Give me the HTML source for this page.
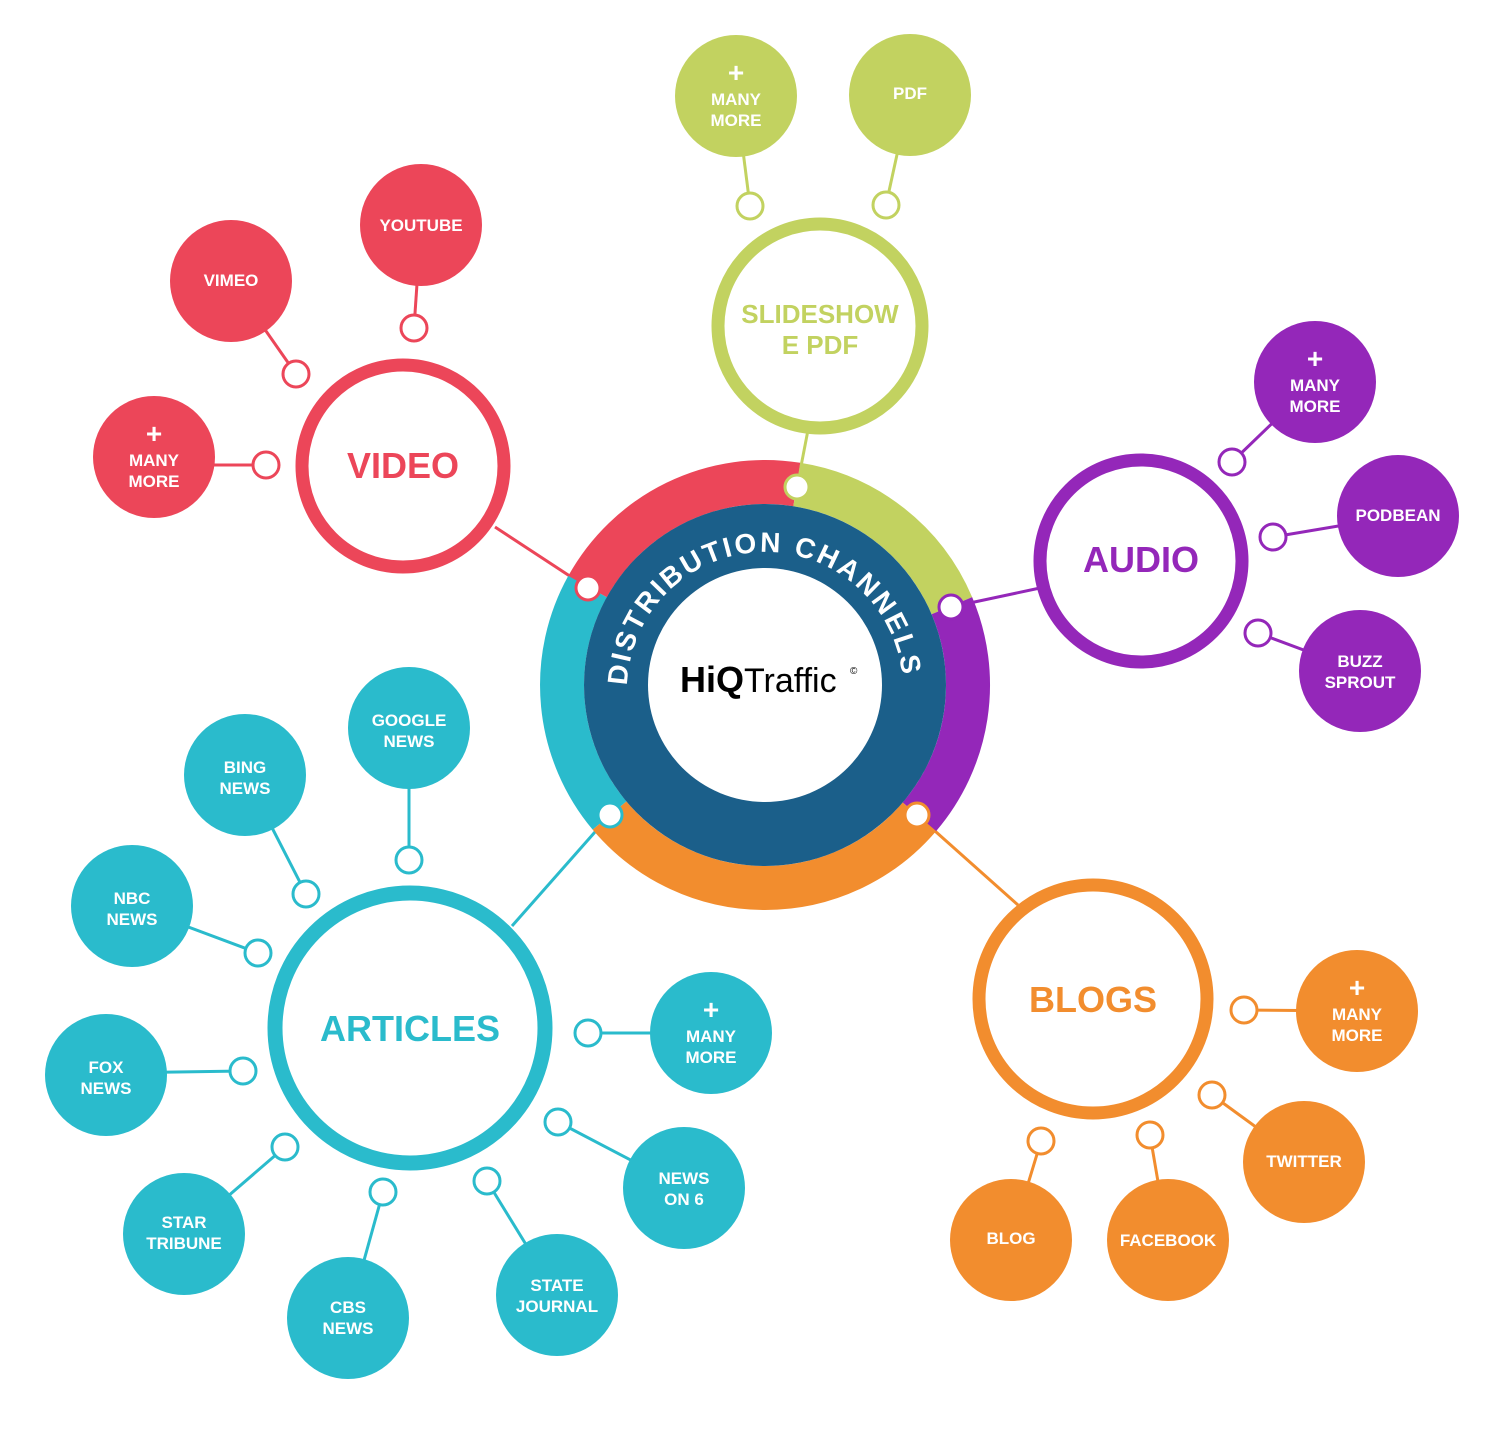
<!DOCTYPE html>
<html><head><meta charset="utf-8"><style>
html,body{margin:0;padding:0;background:#fff}
svg{display:block}
text{font-family:"Liberation Sans",sans-serif;font-weight:bold}
.s{fill:#fff;font-size:17px;text-anchor:middle}
.p{fill:#fff;font-size:28px;text-anchor:middle}
.big{font-size:36px;text-anchor:middle}
</style></head><body>
<svg width="1500" height="1432" viewBox="0 0 1500 1432" xmlns="http://www.w3.org/2000/svg">
<g stroke-width="3" fill="none">
<line x1="495" y1="527" x2="588" y2="588" stroke="#EC4659"/>
<line x1="231" y1="281" x2="296" y2="374" stroke="#EC4659"/>
<line x1="421" y1="225" x2="414" y2="328" stroke="#EC4659"/>
<line x1="154" y1="465" x2="266" y2="465" stroke="#EC4659"/>
<line x1="808" y1="430" x2="797" y2="487" stroke="#C2D260"/>
<line x1="736" y1="96" x2="750" y2="206" stroke="#C2D260"/>
<line x1="910" y1="95" x2="886" y2="205" stroke="#C2D260"/>
<line x1="1040" y1="588" x2="951" y2="607" stroke="#9427B9"/>
<line x1="1315" y1="382" x2="1232" y2="462" stroke="#9427B9"/>
<line x1="1398" y1="516" x2="1273" y2="537" stroke="#9427B9"/>
<line x1="1360" y1="671" x2="1258" y2="633" stroke="#9427B9"/>
<line x1="917" y1="815" x2="1018" y2="905" stroke="#F28D2E"/>
<line x1="1357" y1="1011" x2="1244" y2="1010" stroke="#F28D2E"/>
<line x1="1304" y1="1162" x2="1212" y2="1095" stroke="#F28D2E"/>
<line x1="1168" y1="1240" x2="1150" y2="1135" stroke="#F28D2E"/>
<line x1="1011" y1="1240" x2="1041" y2="1141" stroke="#F28D2E"/>
<g stroke="#2ABBCC">
<line x1="610" y1="815" x2="512" y2="926"/>
<line x1="409" y1="728" x2="409" y2="860"/>
<line x1="245" y1="775" x2="306" y2="894"/>
<line x1="132" y1="906" x2="258" y2="953"/>
<line x1="106" y1="1073" x2="243" y2="1071"/>
<line x1="184" y1="1234" x2="285" y2="1147"/>
<line x1="348" y1="1318" x2="383" y2="1192"/>
<line x1="557" y1="1295" x2="487" y2="1181"/>
<line x1="684" y1="1188" x2="558" y2="1122"/>
<line x1="711" y1="1033" x2="588" y2="1033"/>
</g>
</g>
<g fill="none" stroke-width="44">
<path d="M587.5 586.6 A203 203 0 0 1 796.8 484.5" stroke="#EC4659"/>
<path d="M796.8 484.5 A203 203 0 0 1 951.9 605.7" stroke="#C2D260"/>
<path d="M951.9 605.7 A203 203 0 0 1 919.4 816.8" stroke="#9427B9"/>
<path d="M919.4 816.8 A203 203 0 0 1 609.5 815.5" stroke="#F28D2E"/>
<path d="M609.5 815.5 A203 203 0 0 1 587.5 586.6" stroke="#2ABBCC"/>
</g>
<circle cx="765" cy="685" r="181" fill="#1B5F8A"/>
<circle cx="765" cy="685" r="117" fill="#fff"/>
<defs><path id="arc" d="M627 690 A138 138 0 0 1 903 690"/></defs>
<text fill="#fff" style="font-size:28px" letter-spacing="1"><textPath href="#arc" startOffset="1%" textLength="415">DISTRIBUTION CHANNELS</textPath></text>
<text x="680" y="692" fill="#000" style="font-weight:bold;font-size:36px">HiQ<tspan style="font-weight:normal;font-size:34px">Traffic</tspan></text>
<text x="850" y="674" fill="#000" style="font-weight:normal;font-size:10px">©</text>
<g fill="#fff" stroke-width="3">
<circle cx="588" cy="588" r="12" stroke="#EC4659"/>
<circle cx="296" cy="374" r="13" stroke="#EC4659"/>
<circle cx="414" cy="328" r="13" stroke="#EC4659"/>
<circle cx="266" cy="465" r="13" stroke="#EC4659"/>
<circle cx="797" cy="487" r="12" stroke="#C2D260"/>
<circle cx="750" cy="206" r="13" stroke="#C2D260"/>
<circle cx="886" cy="205" r="13" stroke="#C2D260"/>
<circle cx="951" cy="607" r="12" stroke="#9427B9"/>
<circle cx="1232" cy="462" r="13" stroke="#9427B9"/>
<circle cx="1273" cy="537" r="13" stroke="#9427B9"/>
<circle cx="1258" cy="633" r="13" stroke="#9427B9"/>
<circle cx="917" cy="815" r="12" stroke="#F28D2E"/>
<circle cx="1244" cy="1010" r="13" stroke="#F28D2E"/>
<circle cx="1212" cy="1095" r="13" stroke="#F28D2E"/>
<circle cx="1150" cy="1135" r="13" stroke="#F28D2E"/>
<circle cx="1041" cy="1141" r="13" stroke="#F28D2E"/>
<g stroke="#2ABBCC">
<circle cx="610" cy="815" r="12"/>
<circle cx="409" cy="860" r="13"/>
<circle cx="306" cy="894" r="13"/>
<circle cx="258" cy="953" r="13"/>
<circle cx="243" cy="1071" r="13"/>
<circle cx="285" cy="1147" r="13"/>
<circle cx="383" cy="1192" r="13"/>
<circle cx="487" cy="1181" r="13"/>
<circle cx="558" cy="1122" r="13"/>
<circle cx="588" cy="1033" r="13"/>
</g>
</g>
<g fill="#fff" stroke-width="13">
<circle cx="403" cy="466" r="101" stroke="#EC4659"/>
<circle cx="820" cy="326" r="102" stroke="#C2D260"/>
<circle cx="1141" cy="561" r="101" stroke="#9427B9"/>
<circle cx="1093" cy="999" r="114" stroke="#F28D2E"/>
<circle cx="410" cy="1028" r="135" stroke="#2ABBCC" stroke-width="15"/>
</g>
<text class="big" x="403" y="478" fill="#EC4659">VIDEO</text>
<text x="820" y="323" fill="#C2D260" style="font-size:26px" text-anchor="middle">SLIDESHOW</text>
<text x="820" y="354" fill="#C2D260" style="font-size:26px" text-anchor="middle">E PDF</text>
<text class="big" x="1141" y="572" fill="#9427B9">AUDIO</text>
<text class="big" x="1093" y="1012" fill="#F28D2E">BLOGS</text>
<text class="big" x="410" y="1041" fill="#2ABBCC">ARTICLES</text>
<g fill="#EC4659">
<circle cx="231" cy="281" r="61"/><circle cx="421" cy="225" r="61"/><circle cx="154" cy="457" r="61"/>
</g>
<g fill="#C2D260"><circle cx="736" cy="96" r="61"/><circle cx="910" cy="95" r="61"/></g>
<g fill="#9427B9"><circle cx="1315" cy="382" r="61"/><circle cx="1398" cy="516" r="61"/><circle cx="1360" cy="671" r="61"/></g>
<g fill="#F28D2E"><circle cx="1357" cy="1011" r="61"/><circle cx="1304" cy="1162" r="61"/><circle cx="1168" cy="1240" r="61"/><circle cx="1011" cy="1240" r="61"/></g>
<g fill="#2ABBCC">
<circle cx="409" cy="728" r="61"/><circle cx="245" cy="775" r="61"/><circle cx="132" cy="906" r="61"/>
<circle cx="106" cy="1075" r="61"/><circle cx="184" cy="1234" r="61"/><circle cx="348" cy="1318" r="61"/>
<circle cx="557" cy="1295" r="61"/><circle cx="684" cy="1188" r="61"/><circle cx="711" cy="1033" r="61"/>
</g>
<g>
<text class="s" x="231" y="286">VIMEO</text>
<text class="s" x="421" y="231">YOUTUBE</text>
<text class="p" x="154" y="443">+</text><text class="s" x="154" y="466">MANY</text><text class="s" x="154" y="487">MORE</text>
<text class="p" x="736" y="82">+</text><text class="s" x="736" y="105">MANY</text><text class="s" x="736" y="126">MORE</text>
<text class="s" x="910" y="99">PDF</text>
<text class="p" x="1315" y="368">+</text><text class="s" x="1315" y="391">MANY</text><text class="s" x="1315" y="412">MORE</text>
<text class="s" x="1398" y="521">PODBEAN</text>
<text class="s" x="1360" y="667">BUZZ</text><text class="s" x="1360" y="688">SPROUT</text>
<text class="p" x="1357" y="997">+</text><text class="s" x="1357" y="1020">MANY</text><text class="s" x="1357" y="1041">MORE</text>
<text class="s" x="1304" y="1167">TWITTER</text>
<text class="s" x="1168" y="1246">FACEBOOK</text>
<text class="s" x="1011" y="1244">BLOG</text>
<text class="s" x="409" y="726">GOOGLE</text><text class="s" x="409" y="747">NEWS</text>
<text class="s" x="245" y="773">BING</text><text class="s" x="245" y="794">NEWS</text>
<text class="s" x="132" y="904">NBC</text><text class="s" x="132" y="925">NEWS</text>
<text class="s" x="106" y="1073">FOX</text><text class="s" x="106" y="1094">NEWS</text>
<text class="s" x="184" y="1228">STAR</text><text class="s" x="184" y="1249">TRIBUNE</text>
<text class="s" x="348" y="1313">CBS</text><text class="s" x="348" y="1334">NEWS</text>
<text class="s" x="557" y="1291">STATE</text><text class="s" x="557" y="1312">JOURNAL</text>
<text class="s" x="684" y="1184">NEWS</text><text class="s" x="684" y="1205">ON 6</text>
<text class="p" x="711" y="1019">+</text><text class="s" x="711" y="1042">MANY</text><text class="s" x="711" y="1063">MORE</text>
</g>
</svg>
</body></html>
